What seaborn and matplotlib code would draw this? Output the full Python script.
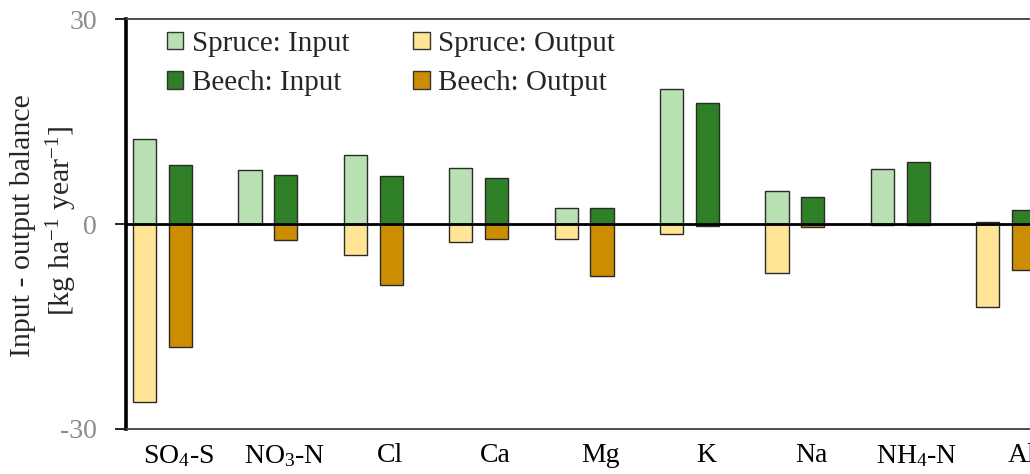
import matplotlib
matplotlib.use("Agg")
import matplotlib.pyplot as plt
import seaborn as sns
import pandas as pd
from matplotlib.patches import Patch

categories = ["SO4-S", "NO3-N", "Cl", "Ca", "Mg", "K", "Na", "NH4-N", "Al"]
cat_labels = [r"SO$_{\mathregular{4}}$-S", r"NO$_{\mathregular{3}}$-N", "Cl", "Ca", "Mg",
              "K", "Na", r"NH$_{\mathregular{4}}$-N", "Al"]
spruce_in = [12.4, 7.9, 10.1, 8.15, 2.3, 19.8, 4.85, 8.0, 0.3]
spruce_out = [-26.1, 0.0, -4.6, -2.65, -2.2, -1.5, -7.2, -0.1, -12.1]
beech_in = [8.6, 7.2, 7.0, 6.75, 2.4, 17.7, 3.9, 9.1, 2.0]
beech_out = [-18.05, -2.3, -8.9, -2.2, -7.6, -0.3, -0.4, -0.1, -6.8]
yticks = [-30, 0, 30]

c_sp_in = "#b9e0b3"
c_be_in = "#2f7f27"
c_sp_out = "#ffe595"
c_be_out = "#cc8e00"

sns.set_theme(style="white")
plt.rcParams["font.family"] = ["Liberation Serif", "DejaVu Serif"]
plt.rcParams["mathtext.fontset"] = "custom"
plt.rcParams["mathtext.rm"] = "Liberation Serif"
plt.rcParams["mathtext.it"] = "Liberation Serif:italic"
plt.rcParams["axes.unicode_minus"] = False

inp = pd.DataFrame({
    "cat": categories * 2,
    "species": ["Spruce"] * len(categories) + ["Beech"] * len(categories),
    "val": spruce_in + beech_in,
})
out = pd.DataFrame({
    "cat": categories * 2,
    "species": ["Spruce"] * len(categories) + ["Beech"] * len(categories),
    "val": spruce_out + beech_out,
})

fig = plt.figure(figsize=(10.30, 4.74), dpi=100)
ax = fig.add_axes([126 / 1030, 1 - 429 / 474, 1 - 126 / 1030, (429 - 19) / 474])

sns.barplot(data=inp, x="cat", y="val", hue="species", hue_order=["Spruce", "Beech"],
            palette=[c_sp_in, c_be_in], width=0.68, gap=0.353, dodge=True,
            edgecolor="#2a2a2a", linewidth=1.0, errorbar=None, legend=False, ax=ax,
            saturation=1)
sns.barplot(data=out, x="cat", y="val", hue="species", hue_order=["Spruce", "Beech"],
            palette=[c_sp_out, c_be_out], width=0.68, gap=0.353, dodge=True,
            edgecolor="#2a2a2a", linewidth=1.0, errorbar=None, legend=False, ax=ax,
            saturation=1)

ax.axhline(0, color="black", lw=2.0, zorder=5)
ax.set_ylim(-30, 30)
ax.set_xlim(-0.346, (1030 - 162.5) / 105.4)
ax.set_yticks(yticks)
ax.set_yticklabels([str(t) for t in yticks], color="#8c8c8c", fontsize=20)
ax.set_xticks([i + 0.155 for i in range(len(categories))])
ax.set_xticklabels(cat_labels, fontsize=20, color="black")
ax.tick_params(axis="y", direction="out", length=8, width=1.2, color="black", pad=13,
               left=True)
ax.tick_params(axis="x", length=0, pad=10)
ax.set_xlabel("")
ax.set_ylabel("")

fig.text(23 / 1030, 1 - 225.5 / 474, "Input - output balance", rotation=90,
         ha="center", va="center", fontsize=21.5)
fig.text(62 / 1030, 1 - 221 / 474,
         r"[kg ha$^{\mathregular{-1}}$ year$^{\mathregular{-1}}$]",
         rotation=90, ha="center", va="center", fontsize=21.5)

ax.spines["right"].set_visible(False)
ax.spines["left"].set_linewidth(2.6)
ax.spines["left"].set_color("black")
ax.spines["top"].set_linewidth(1.3)
ax.spines["top"].set_color("#404040")
ax.spines["bottom"].set_linewidth(1.3)
ax.spines["bottom"].set_color("#404040")

handles = [
    Patch(facecolor=c_sp_in, edgecolor="#333333", lw=1.0, label="Spruce: Input"),
    Patch(facecolor=c_be_in, edgecolor="#333333", lw=1.0, label="Beech: Input"),
    Patch(facecolor=c_sp_out, edgecolor="#333333", lw=1.0, label="Spruce: Output"),
    Patch(facecolor=c_be_out, edgecolor="#333333", lw=1.0, label="Beech: Output"),
]
ax.legend(handles=handles, ncol=2, loc="upper left",
          bbox_to_anchor=(167 / 1030, 1 - 31 / 474), bbox_transform=fig.transFigure,
          borderaxespad=0, borderpad=0,
          frameon=False, fontsize=21, handlelength=0.55, handleheight=0.55,
          handletextpad=0.3, columnspacing=2.2, labelspacing=0.46)

fig.savefig("out.png", dpi=100)
